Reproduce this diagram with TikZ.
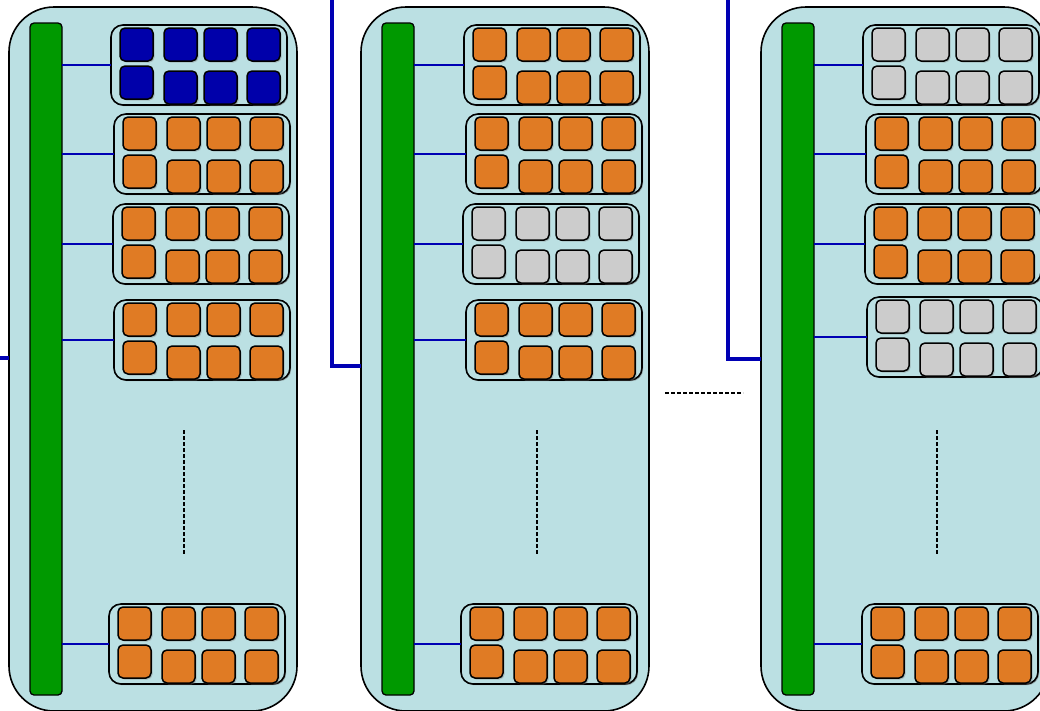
\documentclass[tikz,border=0pt]{standalone}
\usepackage{tikz}
\usetikzlibrary{shadows}
\usepackage{xcolor}

\definecolor{rackbg}{RGB}{187,224,227}
\definecolor{busgreen}{RGB}{0,153,0}
\definecolor{coreorange}{RGB}{224,123,36}
\definecolor{coreblue}{RGB}{0,0,170}
\definecolor{coregray}{RGB}{204,204,204}
\definecolor{wireblue}{RGB}{0,0,180}

% one board: frame plus 2x4 cores (name, left, top, core colour)
\newcommand{\coregroup}[4]{%
  \node[grp] (#1) at (#2+88,#3+40) {};
  \node[core, fill=#4] (#1-1) at (#2+25.5,#3+19.5) {};
  \node[core, fill=#4] (#1-2) at (#2+69.5,#3+19.5) {};
  \node[core, fill=#4] (#1-3) at (#2+109.5,#3+19.5) {};
  \node[core, fill=#4] (#1-4) at (#2+152.5,#3+19.5) {};
  \node[core, fill=#4] (#1-5) at (#2+25.5,#3+57.5) {};
  \node[core, fill=#4] (#1-6) at (#2+69.5,#3+62.5) {};
  \node[core, fill=#4] (#1-7) at (#2+109.5,#3+62.5) {};
  \node[core, fill=#4] (#1-8) at (#2+152.5,#3+62.5) {};
}

\begin{document}
\begin{tikzpicture}[x=1pt, y=-1pt,
    rack/.style={draw, line width=1.6pt, fill=rackbg, rounded corners=45pt,
      minimum width=288pt, minimum height=704pt, inner sep=0pt, outer sep=0pt},
    bus/.style={draw, line width=1.3pt, fill=busgreen, rounded corners=4pt,
      minimum width=32pt, minimum height=672pt, inner sep=0pt, outer sep=0pt},
    grp/.style={draw, line width=1.6pt, fill=rackbg, rounded corners=12pt,
      minimum width=176pt, minimum height=80pt, inner sep=0pt, outer sep=0pt,
      drop shadow={shadow xshift=1.2pt, shadow yshift=-1.2pt, opacity=.5, fill=black!60}},
    core/.style={draw, line width=1.5pt, rounded corners=5pt,
      minimum width=33pt, minimum height=33pt, inner sep=0pt, outer sep=0pt,
      drop shadow={shadow xshift=1.5pt, shadow yshift=-1.5pt, opacity=.4, fill=black!50}},
    link/.style={draw=wireblue, line width=1.3pt},
    wire/.style={draw=wireblue, line width=4pt},
    gap/.style={draw, line width=1.3pt, dash pattern=on 4pt off 2pt}]
  \useasboundingbox (0,0) rectangle (1040,710);
  \clip (0,0) rectangle (1040,710);
  % === Racks ===
  \node[rack] (rackA) at (153,359) {};
  \node[rack] (rackB) at (505,359) {};
  \node[rack] (rackC) at (905,359) {};
  % === Feed wires ===
  \coordinate (feedA) at (0,358);
  \coordinate (feedB) at (332,0);
  \coordinate (feedC) at (728,0);
  \draw[wire] (feedA) -- (feedA -| rackA.west);
  \draw[wire] (feedB) |- ([yshift=-7pt]rackB.west);
  \draw[wire] (feedC) |- (rackC.west);
  % === Backplanes ===
  \node[bus] (busA) at (46,359) {};
  \node[bus] (busB) at (398,359) {};
  \node[bus] (busC) at (798,359) {};
  % === Rack A boards ===
  \coregroup{A1}{111}{25}{coreblue}
  \coregroup{A2}{114}{114}{coreorange}
  \coregroup{A3}{113}{204}{coreorange}
  \coregroup{A4}{114}{300}{coreorange}
  \coregroup{A5}{109}{604}{coreorange}
  % === Rack B boards ===
  \coregroup{B1}{464}{25}{coreorange}
  \coregroup{B2}{466}{114}{coreorange}
  \coregroup{B3}{463}{204}{coregray}
  \coregroup{B4}{466}{300}{coreorange}
  \coregroup{B5}{461}{604}{coreorange}
  % === Rack C boards ===
  \coregroup{C1}{863}{25}{coregray}
  \coregroup{C2}{866}{114}{coreorange}
  \coregroup{C3}{865}{204}{coreorange}
  \coregroup{C4}{867}{297}{coregray}
  \coregroup{C5}{862}{604}{coreorange}
  % === Board links ===
  \draw[link] (A1.west) -- (A1.west -| busA.east);
  \draw[link] (A2.west) -- (A2.west -| busA.east);
  \draw[link] (A3.west) -- (A3.west -| busA.east);
  \draw[link] (A4.west) -- (A4.west -| busA.east);
  \draw[link] (A5.west) -- (A5.west -| busA.east);
  \draw[link] (B1.west) -- (B1.west -| busB.east);
  \draw[link] (B2.west) -- (B2.west -| busB.east);
  \draw[link] (B3.west) -- (B3.west -| busB.east);
  \draw[link] (B4.west) -- (B4.west -| busB.east);
  \draw[link] (B5.west) -- (B5.west -| busB.east);
  \draw[link] (C1.west) -- (C1.west -| busC.east);
  \draw[link] (C2.west) -- (C2.west -| busC.east);
  \draw[link] (C3.west) -- (C3.west -| busC.east);
  \draw[link] (C4.west) -- (C4.west -| busC.east);
  \draw[link] (C5.west) -- (C5.west -| busC.east);
  % === Elided boards / racks ===
  \draw[gap] (184,430) -- (184,555);
  \draw[gap] (537,430) -- (537,555);
  \draw[gap] (937,430) -- (937,555);
  \draw[gap] (665,393) -- (743,393);
\end{tikzpicture}
\end{document}
